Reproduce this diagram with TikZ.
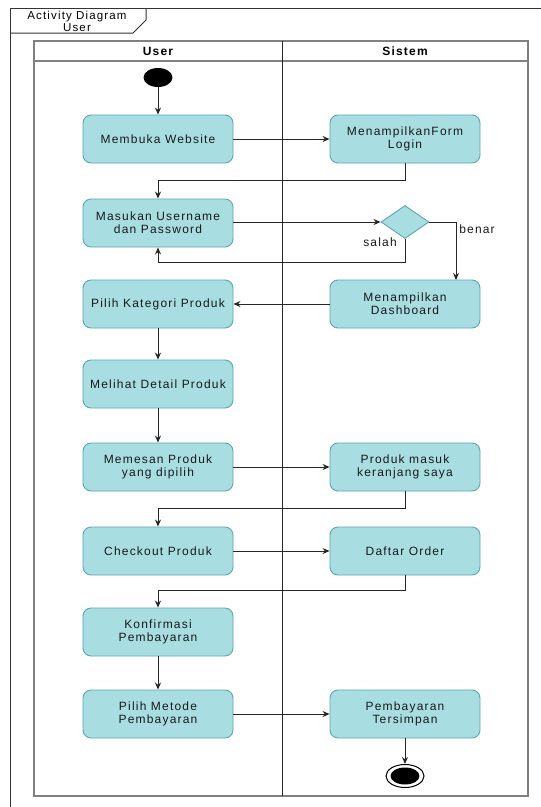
\documentclass[tikz,border=0pt]{standalone}
\usepackage{fontspec}
\setmainfont{Liberation Sans}[LetterSpace=10]
\usetikzlibrary{shapes.geometric,arrows.meta,calc}
\definecolor{actfill}{HTML}{A8DEE2}
\definecolor{actdraw}{HTML}{5AA7AE}
\definecolor{lanegray}{HTML}{808080}
\definecolor{linecol}{HTML}{262626}
\tikzset{
  actbox/.style={rectangle, rounded corners=8pt, minimum width=150pt, minimum height=48pt,
    fill=actfill, draw=actdraw, line width=0.9pt, align=center, font=\fontsize{12}{13}\selectfont, text=black!90},
  decbox/.style={diamond, minimum width=48pt, minimum height=33pt, inner sep=0pt, aspect=1.45,
    fill=actfill, draw=actdraw, line width=0.9pt},
  arr/.style={draw=linecol, line width=1pt, -{Stealth[length=7pt,width=6pt]}},
  lbl/.style={font=\fontsize{12}{13}\selectfont, text=black!90},
  hdr/.style={font=\bfseries\fontsize{12}{13}\selectfont}
}
\begin{document}
\begin{tikzpicture}[x=1pt,y=-1pt]
\useasboundingbox (0,0) rectangle (541,807);
\fill[white] (0,0) rectangle (541,807);
% outer frame
\draw[black!80, line width=1pt] (10,807) -- (10,8) -- (541,8);
\draw[black!80, line width=1pt] (10,33) -- (133,33) -- (146,20) -- (146,8);
\node[font=\fontsize{11.5}{12}\selectfont, align=center] (title) at (77,21) {Activity Diagram\\User};
% swimlanes
\draw[lanegray, line width=1.3pt] (34,41) rectangle (528,796);
\draw[lanegray, line width=1.3pt] (34,61) -- (528,61);
\draw[black!85, line width=1pt] (282,41) -- (282,796);
\node[hdr] (hu) at (158,51) {User};
\node[hdr] (hs) at (405,51) {Sistem};
% start
\fill[black] (158,77.5) ellipse [x radius=14.5, y radius=9.5];
\coordinate (startb) at (158,87);
% nodes
\node[actbox] (m1) at (158,139) {Membuka Website};
\node[actbox] (s1) at (405,139) {MenampilkanForm\\Login};
\node[actbox] (m2) at (158,223) {Masukan Username\\dan Password};
\node[decbox] (d) at (405,222) {};
\node[actbox] (s2) at (405,304) {Menampilkan\\Dashboard};
\node[actbox] (m3) at (158,304) {Pilih Kategori Produk};
\node[actbox] (m4) at (158,384) {Melihat Detail Produk};
\node[actbox] (m5) at (158,467) {Memesan Produk\\yang dipilih};
\node[actbox] (s3) at (405,467) {Produk masuk\\keranjang saya};
\node[actbox] (m6) at (158,551) {Checkout Produk};
\node[actbox] (s4) at (405,551) {Daftar Order};
\node[actbox] (m7) at (158,632) {Konfirmasi\\Pembayaran};
\node[actbox] (m8) at (158,714) {Pilih Metode\\Pembayaran};
\node[actbox] (s5) at (405,714) {Pembayaran\\Tersimpan};
% end
\node[ellipse, draw=black, line width=1pt, minimum width=38pt, minimum height=23pt, inner sep=0pt] (endn) at (405,776) {};
\fill[black] (405,776) ellipse [x radius=14.5, y radius=8.5];
% coordinates
\coordinate (c1) at (158,180);
\coordinate (sal) at (158,262);
\coordinate (ben) at (456,280);
\coordinate (c2) at (158,508);
\coordinate (c3) at (158,590);
% connectors
\draw[arr] (startb) -- (m1.north);
\draw[arr] (m1) -- (s1);
\draw[arr] (s1.south) |- (c1) -- (m2.north);
\draw[arr] (m2.east |- d.west) -- (d.west);
\draw[arr] (d.south) |- (sal) -- (m2.south);
\draw[arr] (d.east) -| (ben);
\draw[arr] (s2.west) -- (m3.east);
\draw[arr] (m3) -- (m4);
\draw[arr] (m4) -- (m5);
\draw[arr] (m5) -- (s3);
\draw[arr] (s3.south) |- (c2) -- (m6.north);
\draw[arr] (m6) -- (s4);
\draw[arr] (s4.south) |- (c3) -- (m7.north);
\draw[arr] (m7) -- (m8);
\draw[arr] (m8) -- (s5);
\draw[arr] (s5) -- (endn);
% labels
\node[lbl] (lsalah) at (380,242) {salah};
\node[lbl] (lbenar) at (477,229) {benar};
\end{tikzpicture}
\end{document}
